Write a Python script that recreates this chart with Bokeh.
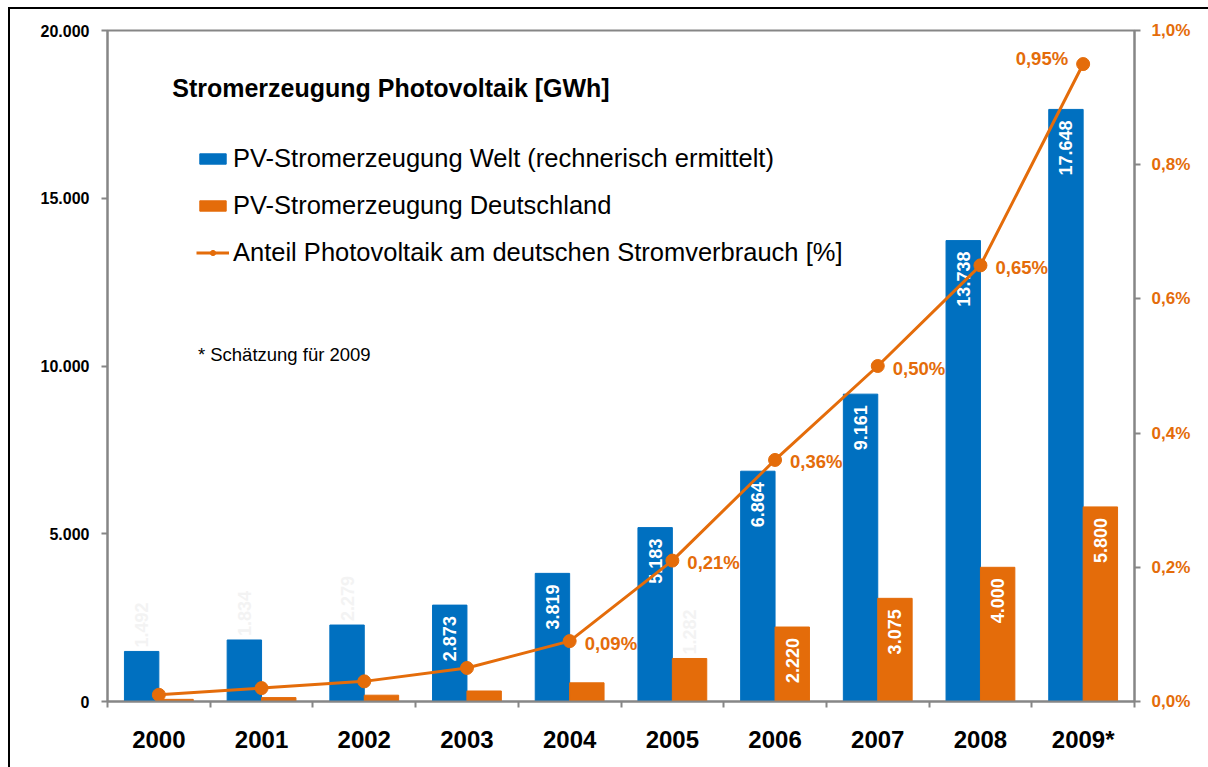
import numpy as np
from bokeh.plotting import figure
from bokeh.models import (ColumnDataSource, Range1d, LinearAxis, FixedTicker,
                          CustomJSTickFormatter, Legend, LegendItem, Label)
from bokeh.transform import dodge
from bokeh.core.properties import value
from bokeh.embed import file_html
from bokeh.resources import INLINE

# ---------------- data ----------------
years = ["2000", "2001", "2002", "2003", "2004", "2005", "2006", "2007", "2008", "2009*"]
world_gwh = [1492, 1834, 2279, 2873, 3819, 5183, 6864, 9161, 13738, 17648]
germany_gwh = [64, 116, 188, 313, 557, 1282, 2220, 3075, 4000, 5800]
share_pct = [0.01, 0.02, 0.03, 0.05, 0.09, 0.21, 0.36, 0.50, 0.65, 0.95]

title_text = "Stromerzeugung Photovoltaik [GWh]"
note_text = "* Schätzung für 2009"
legend_labels = ["PV-Stromerzeugung Welt (rechnerisch ermittelt)",
                 "PV-Stromerzeugung Deutschland",
                 "Anteil Photovoltaik am deutschen Stromverbrauch [%]"]

BLUE = "#0070C0"
ORANGE = "#E46C0A"
AXIS = "#868686"
FAINT = "#f3f3f3"
FONT = "Liberation Sans"

def de_num(v):
    return f"{v:,}".replace(",", ".")

def de_pct(v):
    return f"{v:.2f}".replace(".", ",") + "%"

x = np.arange(len(years)) + 0.5
src = ColumnDataSource(dict(x=x, world=world_gwh, de=germany_gwh, pct=share_pct,
                            wlab=[de_num(v) for v in world_gwh],
                            dlab=[de_num(v) for v in germany_gwh],
                            plab=[de_pct(v) for v in share_pct]))

def subset(idx):
    d = {k: [src.data[k][i] for i in idx] for k in src.data}
    return ColumnDataSource(d)

n = len(years)
world_in = subset([i for i in range(n) if i >= 3])
world_out = subset([i for i in range(n) if i < 3])
de_in = subset([i for i in range(n) if i >= 6])
de_out = subset([5])
pct_right = subset([i for i in range(4, n - 1)])
pct_left = subset([n - 1])

# ---------------- figure ----------------
p = figure(width=1198, height=758, output_backend="svg", toolbar_location=None,
           x_range=Range1d(0, 10), y_range=Range1d(0, 20000),
           min_border_left=97, min_border_right=74, min_border_top=21,
           min_border_bottom=66, background_fill_color="white",
           border_fill_color="white", margin=(9, 0, 0, 10))
p.styles = {"outline": "2px solid black"}
p.xgrid.visible = False
p.ygrid.visible = False
p.outline_line_color = AXIS
p.outline_line_width = 2
p.extra_y_ranges = {"pct": Range1d(0, 1.0)}

# axes
xa = p.xaxis[0]
xa.ticker = FixedTicker(ticks=list(x), minor_ticks=list(np.arange(n + 1)))
xa.major_label_overrides = {float(k): v for k, v in zip(x, years)}
xa.major_tick_line_color = None
xa.major_tick_out = 0
xa.major_tick_in = 0
xa.minor_tick_out = 6
xa.minor_tick_in = 0
xa.minor_tick_line_color = AXIS
xa.minor_tick_line_width = 2
xa.axis_line_color = AXIS
xa.axis_line_width = 2
xa.major_label_text_font = FONT
xa.major_label_text_font_style = "bold"
xa.major_label_text_font_size = "24px"
xa.major_label_text_color = "black"
xa.major_label_standoff = 18

ya = p.yaxis[0]
ya.ticker = FixedTicker(ticks=[0, 5000, 10000, 15000, 20000])
ya.formatter = CustomJSTickFormatter(code="return tick == 0 ? '0' : (tick/1000).toFixed(3);")
ya.minor_tick_line_color = None
ya.major_tick_out = 6
ya.major_tick_in = 0
ya.major_tick_line_color = AXIS
ya.major_tick_line_width = 2
ya.axis_line_color = AXIS
ya.axis_line_width = 2
ya.major_label_text_font = FONT
ya.major_label_text_font_style = "bold"
ya.major_label_text_font_size = "16px"
ya.major_label_text_color = "black"
ya.major_label_standoff = 12

ra = LinearAxis(y_range_name="pct",
                ticker=FixedTicker(ticks=[0, 0.2, 0.4, 0.6, 0.8, 1.0]),
                formatter=CustomJSTickFormatter(code="return tick.toFixed(1).replace('.', ',') + '%';"))
ra.minor_tick_line_color = None
ra.major_tick_out = 6
ra.major_tick_in = 0
ra.major_tick_line_color = AXIS
ra.major_tick_line_width = 2
ra.axis_line_color = AXIS
ra.axis_line_width = 2
ra.major_label_text_font = FONT
ra.major_label_text_font_style = "bold"
ra.major_label_text_font_size = "17px"
ra.major_label_text_color = ORANGE
ra.major_label_standoff = 11
p.add_layout(ra, "right")

# bars
bw = 0.335
rb = p.vbar(x=dodge("x", -bw / 2, range=p.x_range), top="world", width=bw, bottom=0,
            source=src, fill_color=BLUE, line_color=BLUE)
ro = p.vbar(x=dodge("x", bw / 2, range=p.x_range), top="de", width=bw, bottom=0,
            source=src, fill_color=ORANGE, line_color=ORANGE)

# bar labels
lab_kw = dict(angle=np.pi / 2, text_font=value(FONT), text_font_style="bold",
              text_font_size="18px", text_baseline="middle")
p.text(x=dodge("x", -bw / 2, range=p.x_range), y="world", text="wlab", source=world_in,
       text_color="white", text_align="right", y_offset=11, **lab_kw)
p.text(x=dodge("x", -bw / 2, range=p.x_range), y="world", text="wlab", source=world_out,
       text_color=FAINT, text_align="left", y_offset=-4, **lab_kw)
p.text(x=dodge("x", bw / 2, range=p.x_range), y="de", text="dlab", source=de_in,
       text_color="white", text_align="right", y_offset=11, **lab_kw)
p.text(x=dodge("x", bw / 2, range=p.x_range), y="de", text="dlab", source=de_out,
       text_color=FAINT, text_align="left", y_offset=-4, **lab_kw)

# line
rl = p.line(x="x", y="pct", source=src, y_range_name="pct", line_color=ORANGE, line_width=3)
rs = p.scatter(x="x", y="pct", source=src, y_range_name="pct", size=13,
               fill_color=ORANGE, line_color=ORANGE)

pl_kw = dict(text_font=value(FONT), text_font_style="bold", text_font_size="18.5px",
             text_color=ORANGE, text_baseline="middle", y_range_name="pct")
p.text(x="x", y="pct", text="plab", source=pct_right, text_align="left",
       x_offset=15, y_offset=2, **pl_kw)
p.text(x="x", y="pct", text="plab", source=pct_left, text_align="right",
       x_offset=-15, y_offset=-6, **pl_kw)

# title and note
p.add_layout(Label(x=0.63, y=18300, text=title_text, text_font=FONT,
                   text_font_style="bold", text_font_size="25px",
                   text_baseline="middle", text_color="black"))
p.add_layout(Label(x=0.88, y=10350, text=note_text, text_font=FONT,
                   text_font_size="18.5px", text_baseline="middle", text_color="black"))

# legend
legend = Legend(items=[LegendItem(label=legend_labels[0], renderers=[rb]),
                       LegendItem(label=legend_labels[1], renderers=[ro]),
                       LegendItem(label=legend_labels[2], renderers=[rl, rs])],
                location=(89, 434), orientation="vertical",
                glyph_width=33, glyph_height=13, label_standoff=4,
                label_text_font=FONT, label_text_font_size="25.5px",
                label_text_color="black", spacing=18, padding=0, margin=0,
                border_line_color=None, background_fill_alpha=0)
p.add_layout(legend, "center")

open("out.html", "w").write(file_html(p, INLINE))
